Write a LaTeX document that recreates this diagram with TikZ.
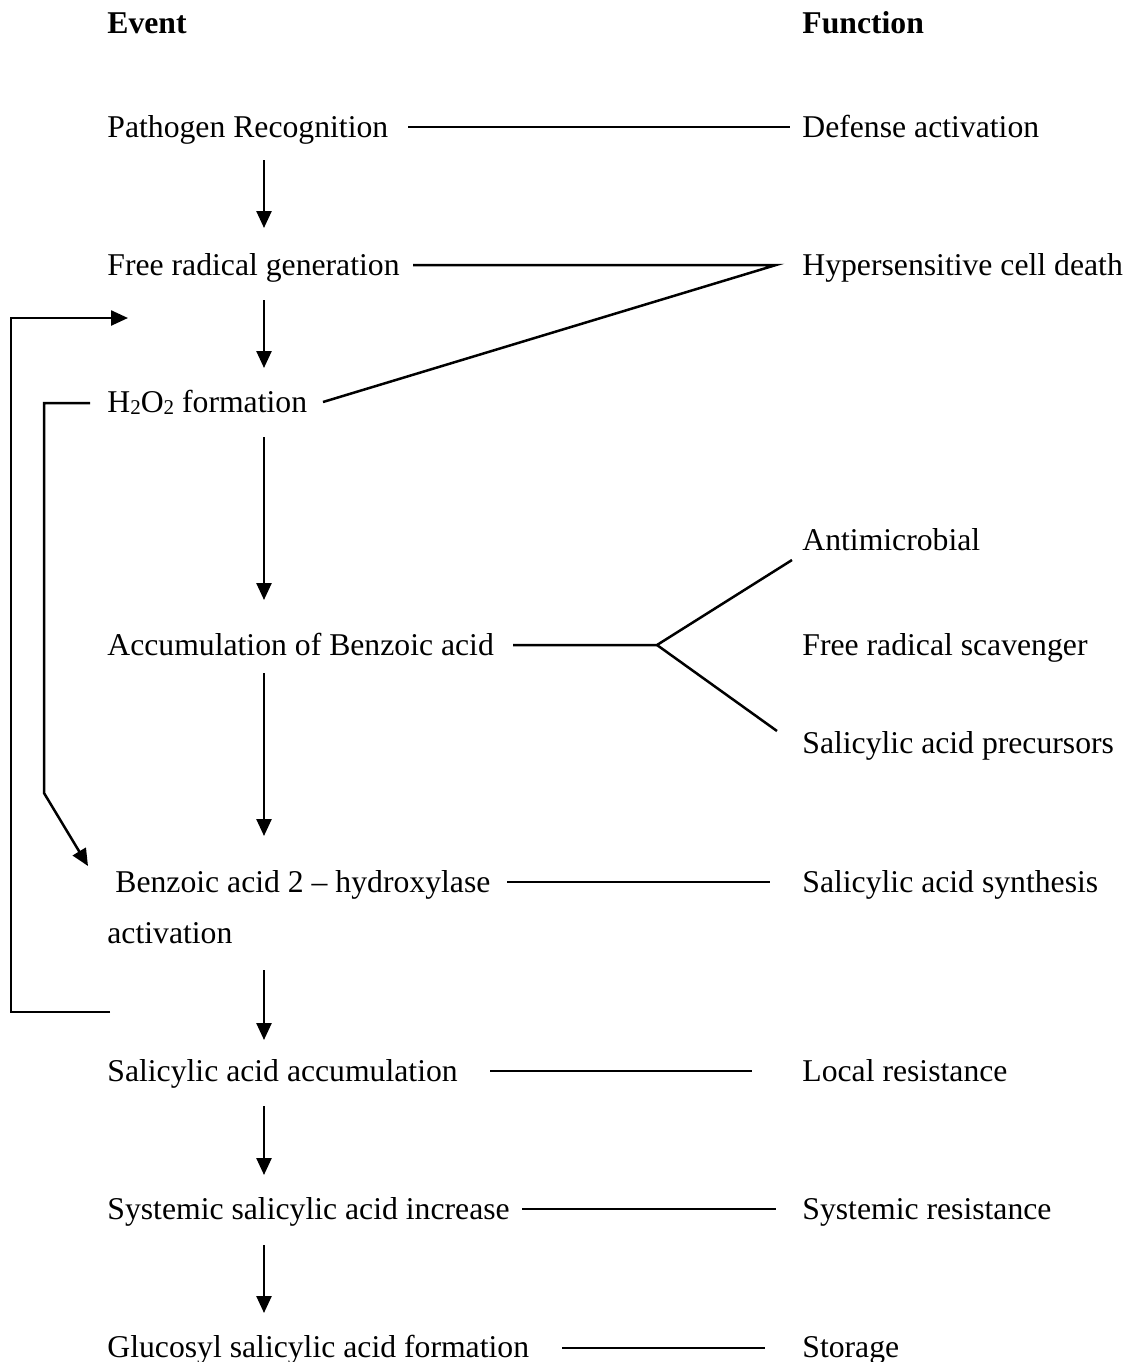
\documentclass[tikz,border=0pt]{standalone}
\usepackage{fontspec}
\setmainfont{Liberation Serif}
\usetikzlibrary{arrows.meta}
\newcommand{\lowsub}[1]{\raisebox{-0.15ex}{\fontsize{10.5}{12}\selectfont #1}}
\begin{document}
\begin{tikzpicture}[x=0.5pt,y=-0.5pt,
  txt/.style={anchor=base west,inner sep=0pt,font=\fontsize{15.85}{19}\selectfont},
  ttl/.style={anchor=base west,inner sep=0pt,font=\fontsize{15.85}{19}\selectfont\bfseries},
  ln/.style={line width=1.25pt},
  arr/.style={line width=1.25pt,-{Triangle[length=8.5pt,width=7.5pt]}}]
\useasboundingbox (0,0) rectangle (1132,1362);
% titles
\node[ttl] (ev) at (107,33) {Event};
\node[ttl] (fn) at (802,33) {Function};
% events
\node[txt] (e1) at (107,137) {Pathogen Recognition};
\node[txt] (e2) at (107,275) {Free radical generation};
\node[txt] (e3) at (107,412) {H\lowsub{2}O\lowsub{2} formation};
\node[txt] (e4) at (107,655) {Accumulation of Benzoic acid};
\node[txt] (e5) at (115,892) {Benzoic acid 2 – hydroxylase};
\node[txt] (e5b) at (107,943) {activation};
\node[txt] (e6) at (107,1081) {Salicylic acid accumulation};
\node[txt] (e7) at (107,1219) {Systemic salicylic acid increase};
\node[txt] (e8) at (107,1357) {Glucosyl salicylic acid formation};
% functions
\node[txt] (f1) at (802,137) {Defense activation};
\node[txt] (f2) at (802,275) {Hypersensitive cell death};
\node[txt] (f4a) at (802,550) {Antimicrobial};
\node[txt] (f4b) at (802,655) {Free radical scavenger};
\node[txt] (f4c) at (802,753) {Salicylic acid precursors};
\node[txt] (f5) at (802,892) {Salicylic acid synthesis};
\node[txt] (f6) at (802,1081) {Local resistance};
\node[txt] (f7) at (802,1219) {Systemic resistance};
\node[txt] (f8) at (802,1357) {Storage};
% connector end points
\coordinate (a1s) at (264,160);  \coordinate (a1e) at (264,228);
\coordinate (a2s) at (264,300);  \coordinate (a2e) at (264,368);
\coordinate (a3s) at (264,437);  \coordinate (a3e) at (264,600);
\coordinate (a4s) at (264,673);  \coordinate (a4e) at (264,836);
\coordinate (a5s) at (264,970);  \coordinate (a5e) at (264,1040);
\coordinate (a6s) at (264,1106); \coordinate (a6e) at (264,1175);
\coordinate (a7s) at (264,1245); \coordinate (a7e) at (264,1313);
\coordinate (h1s) at (408,127);  \coordinate (h1e) at (790,127);
\coordinate (h2s) at (413,265);  \coordinate (hj) at (776,265);
\coordinate (h3s) at (323,402);
\coordinate (h4s) at (513,645);  \coordinate (bj) at (657,645);
\coordinate (b1) at (792,560);   \coordinate (b2) at (777,731);
\coordinate (h5s) at (507,882);  \coordinate (h5e) at (770,882);
\coordinate (h6s) at (490,1071); \coordinate (h6e) at (752,1071);
\coordinate (h7s) at (522,1209); \coordinate (h7e) at (776,1209);
\coordinate (h8s) at (562,1348); \coordinate (h8e) at (765,1348);
\coordinate (l1s) at (110,1012); \coordinate (l1a) at (11,1012);
\coordinate (l1b) at (11,318);   \coordinate (l1e) at (128,318);
\coordinate (l2s) at (90,403);   \coordinate (l2a) at (44,403);
\coordinate (l2b) at (44,793);   \coordinate (l2e) at (88,866);
% vertical arrows
\draw[arr] (a1s) -- (a1e);
\draw[arr] (a2s) -- (a2e);
\draw[arr] (a3s) -- (a3e);
\draw[arr] (a4s) -- (a4e);
\draw[arr] (a5s) -- (a5e);
\draw[arr] (a6s) -- (a6e);
\draw[arr] (a7s) -- (a7e);
% horizontal links
\draw[ln] (h1s) -- (h1e);
\draw[ln] (h2s) -- (hj) -- (h3s);
\draw[ln] (h4s) -- (bj) -- (b1);
\draw[ln] (bj) -- (b2);
\draw[ln] (h5s) -- (h5e);
\draw[ln] (h6s) -- (h6e);
\draw[ln] (h7s) -- (h7e);
\draw[ln] (h8s) -- (h8e);
% feedback loops
\draw[arr] (l1s) -- (l1a) -- (l1b) -- (l1e);
\draw[arr] (l2s) -- (l2a) -- (l2b) -- (l2e);
\end{tikzpicture}
\end{document}
